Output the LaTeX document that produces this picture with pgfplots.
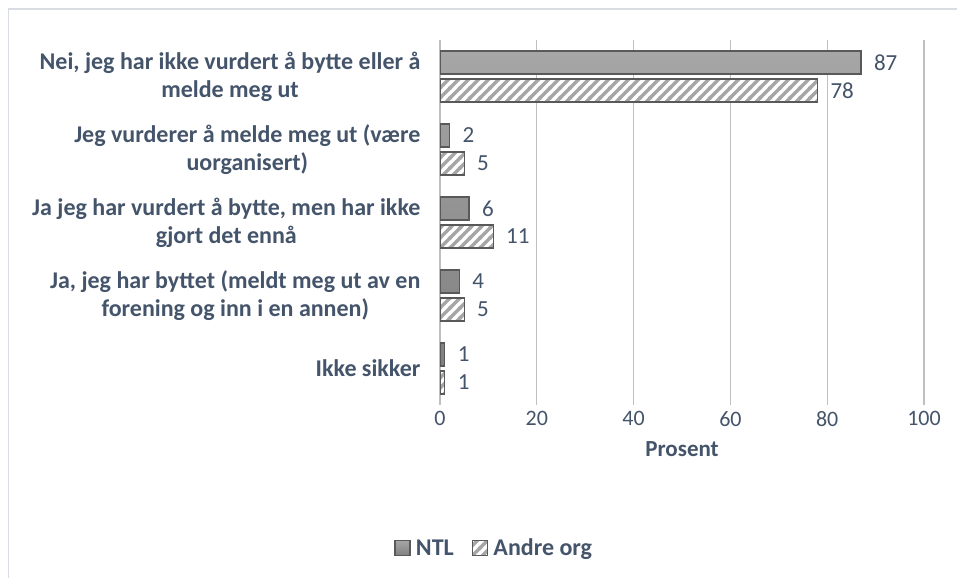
\documentclass[border=0pt]{standalone}
\usepackage{fontspec}
\setmainfont{Carlito}
\usepackage{pgfplots}
\pgfplotsset{compat=1.18}
\usetikzlibrary{patterns}
\definecolor{txt}{HTML}{44546A}
\definecolor{gridc}{HTML}{BFBFBF}
\definecolor{barline}{HTML}{595959}
\definecolor{framec}{HTML}{D9DDE3}
\definecolor{ntltop}{HTML}{A6A6A6}
\definecolor{ntlbot}{HTML}{808080}
\definecolor{stripec}{HTML}{A6A6A6}
\pgfdeclarepatternformonly{stripes}{\pgfqpoint{-2pt}{-2pt}}{\pgfqpoint{12pt}{12pt}}{\pgfqpoint{10pt}{10pt}}{%
  \pgfsetlinewidth{3.2pt}%
  \pgfpathmoveto{\pgfqpoint{-1pt}{-1pt}}\pgfpathlineto{\pgfqpoint{11pt}{11pt}}%
  \pgfpathmoveto{\pgfqpoint{-1pt}{9pt}}\pgfpathlineto{\pgfqpoint{1pt}{11pt}}%
  \pgfpathmoveto{\pgfqpoint{9pt}{-1pt}}\pgfpathlineto{\pgfqpoint{11pt}{1pt}}%
  \pgfusepath{stroke}}
\pgfplotstableread{
val cat
1 0
4 1
6 2
2 3
87 4
}\ntl
\pgfplotstableread{
val cat
1 0
5 1
11 2
5 3
78 4
}\andre
\begin{document}
\begin{tikzpicture}[x=1pt,y=1pt]
\useasboundingbox (0,0) rectangle (957,-578);
\fill[white] (0,0) rectangle (957,-578);
\draw[framec, line width=1.2pt] (8.5,-578) -- (8.5,-9) -- (957,-9);
\begin{axis}[
  at={(440pt,-405pt)}, anchor=south west,
  scale only axis, width=484pt, height=365pt,
  xmin=0, xmax=100, ymin=-0.5, ymax=4.5,
  xbar, bar width=23pt,
  xtick={0,20,...,100}, ytick={0,...,4},
  yticklabels={
    {Ikke sikker},
    {Ja, jeg har byttet (meldt meg ut av en\\forening og inn i en annen)},
    {Ja jeg har vurdert å bytte, men har ikke\\gjort det ennå},
    {Jeg vurderer å melde meg ut (være\\uorganisert)},
    {Nei, jeg har ikke vurdert å bytte eller å\\melde meg ut}},
  xmajorgrids, major grid style={gridc, line width=1.2pt},
  axis line style={draw=none}, major tick length=0pt,
  /pgf/number format/assume math mode=true,
  xticklabel style={font=\fontsize{22}{26}\selectfont, text=txt, yshift=-3pt},
  yticklabel style={font=\bfseries\fontsize{24}{28}\selectfont, text=txt, align=center, xshift=-16pt},
  xlabel={Prosent},
  xlabel style={at={(axis description cs:0.5,-0.12)}, anchor=center, font=\bfseries\fontsize{23}{26}\selectfont, text=txt},
  nodes near coords,
  nodes near coords style={font=\fontsize{23}{26}\selectfont, text=txt, xshift=9pt},
  legend style={at={(0.112,-0.392)}, anchor=center, draw=none, fill=none, legend columns=2,
    font=\bfseries\fontsize{24}{26}\selectfont, text=txt,
    /tikz/every even column/.append style={column sep=16pt}},
  legend image code/.code={\draw[#1] (0pt,-7.5pt) rectangle (15pt,7.5pt);
    \pgfpathrectangle{\pgfpoint{0pt}{-7.5pt}}{\pgfpoint{19pt}{15pt}}\pgfusepath{use as bounding box}},
]
\addplot[bar shift=14pt, draw=barline, line width=1.3pt, top color=ntltop, bottom color=ntlbot] table[x=val, y=cat] {\ntl};
\addlegendentry{NTL}
\addplot[bar shift=-14pt, draw=barline, line width=1.3pt, fill=white, postaction={pattern=stripes, pattern color=stripec}] table[x=val, y=cat] {\andre};
\addlegendentry{Andre org}
\end{axis}
\end{tikzpicture}
\end{document}
